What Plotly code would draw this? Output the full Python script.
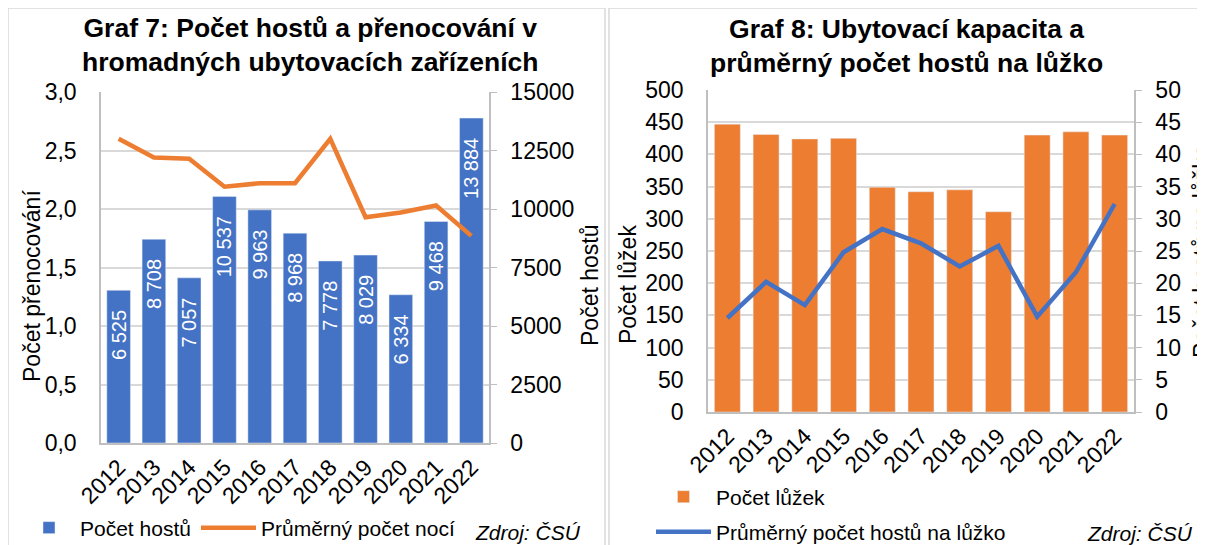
import plotly.graph_objects as go

# The page body has an 8px default margin: the figure is drawn 8px in from the corner.
OFF = 8
W, H = 1205 - OFF, 545 - OFF

years = ["2012", "2013", "2014", "2015", "2016", "2017", "2018", "2019", "2020", "2021", "2022"]

# Graf 7
pocet_hostu = [6525, 8708, 7057, 10537, 9963, 8968, 7778, 8029, 6334, 9468, 13884]
prumerny_pocet_noci = [2.60, 2.44, 2.43, 2.19, 2.22, 2.22, 2.60, 1.93, 1.97, 2.03, 1.77]
hostu_labels = ["6 525", "8 708", "7 057", "10 537", "9 963", "8 968", "7 778", "8 029", "6 334", "9 468", "13 884"]
left7_vals = [0, 0.5, 1.0, 1.5, 2.0, 2.5, 3.0]
left7_text = ["0,0", "0,5", "1,0", "1,5", "2,0", "2,5", "3,0"]
right7_vals = [0, 2500, 5000, 7500, 10000, 12500, 15000]
right7_text = ["0", "2500", "5000", "7500", "10000", "12500", "15000"]

# Graf 8
pocet_luzek = [447, 431, 424, 425, 349, 342, 345, 311, 430, 435, 430]
hostu_na_luzko = [14.6, 20.2, 16.6, 24.8, 28.4, 26.2, 22.6, 25.8, 14.8, 21.7, 32.3]
left8_vals = [0, 50, 100, 150, 200, 250, 300, 350, 400, 450, 500]
right8_vals = [0, 5, 10, 15, 20, 25, 30, 35, 40, 45, 50]

BLUE = "#4472C4"
ORANGE = "#ED7D31"
GRID = "#d9d9d9"
AXIS = "#bfbfbf"
FONT = "Liberation Sans, Arial, sans-serif"
TXT = "#000000"


def px(x):
    return (x - OFF) / W


def py(y):
    return 1 - (y - OFF) / H


fig = go.Figure()

# ---- Graf 7 ----
fig.add_trace(go.Bar(
    x=years, y=pocet_hostu, name="Počet hostů", showlegend=True,
    marker=dict(color=BLUE), text=hostu_labels, textposition="inside",
    texttemplate="%{text}\u00a0\u00a0\u00a0",
    textangle=-90, insidetextanchor="end", constraintext="none",
    textfont=dict(color="white", size=20, family=FONT),
    xaxis="x", yaxis="y", legend="legend",
))
fig.add_trace(go.Scatter(
    x=years, y=prumerny_pocet_noci, name="Průměrný počet nocí", mode="lines",
    showlegend=True,
    line=dict(color=ORANGE, width=4.5), xaxis="x", yaxis="y2", legend="legend2",
))

# ---- Graf 8 ----
fig.add_trace(go.Bar(
    x=years, y=pocet_luzek, name="Počet lůžek", showlegend=True,
    marker=dict(color=ORANGE), xaxis="x2", yaxis="y3", legend="legend3",
))
fig.add_trace(go.Scatter(
    x=years, y=hostu_na_luzko, name="Průměrný počet hostů na lůžko", mode="lines",
    showlegend=True,
    line=dict(color=BLUE, width=4.5), xaxis="x2", yaxis="y4", legend="legend4",
))

tickfont = dict(family=FONT, size=23, color=TXT)
legfont = dict(family=FONT, size=21, color=TXT)


def leg(x, y, iw):
    return dict(orientation="h", x=px(x), y=py(y), xanchor="left", yanchor="middle",
                font=legfont, bgcolor="rgba(0,0,0,0)", itemwidth=iw, visible=True)


fig.update_layout(
    width=W, height=H, autosize=False, showlegend=True,
    margin=dict(l=0, r=0, t=0, b=0, autoexpand=False),
    paper_bgcolor="white", plot_bgcolor="white",
    font=dict(family=FONT, color=TXT),
    bargap=0.33,
    xaxis=dict(domain=[px(101), px(489)], anchor="y", type="category",
               tickangle=-45, tickfont=tickfont, showline=True, linecolor=AXIS,
               linewidth=1.5, ticks="", showgrid=False),
    yaxis=dict(domain=[py(443), py(92)], anchor="x", side="right", range=[0, 15000],
               tickvals=right7_vals, ticktext=right7_text, tickfont=tickfont,
               showgrid=True, gridcolor=GRID, gridwidth=1.5, showline=True,
               linecolor=AXIS, linewidth=1.5, ticks="outside", ticklen=6,
               tickcolor=AXIS, ticklabelstandoff=9, zeroline=False),
    yaxis2=dict(overlaying="y", anchor="x", side="left", range=[0, 3],
                tickvals=left7_vals, ticktext=left7_text, tickfont=tickfont,
                showgrid=False, showline=True, linecolor=AXIS, linewidth=1.5,
                ticks="", ticklabelstandoff=18, zeroline=False),
    xaxis2=dict(domain=[px(708), px(1134)], anchor="y3", type="category",
                tickangle=-45, tickfont=tickfont, showline=True, linecolor=AXIS,
                linewidth=1.5, ticks="", showgrid=False),
    yaxis3=dict(domain=[py(412), py(90)], anchor="x2", side="left", range=[0, 500],
                tickvals=left8_vals, tickfont=tickfont, showgrid=True,
                gridcolor=GRID, gridwidth=1.5, showline=True, linecolor=AXIS,
                linewidth=1.5, ticks="", ticklabelstandoff=18, zeroline=False),
    yaxis4=dict(overlaying="y3", anchor="x2", side="right", range=[0, 50],
                tickvals=right8_vals, tickfont=tickfont, showgrid=False,
                showline=True, linecolor=AXIS, linewidth=1.5, ticks="outside",
                ticklen=6, tickcolor=AXIS, ticklabelstandoff=9, zeroline=False),
    legend=leg(18, 528, 52),
    legend2=leg(196, 528, 55),
    legend3=leg(651, 497, 55),
    legend4=leg(651, 532, 55),
)

title_font = dict(family=FONT, size=26.5, color=TXT)
axis_title_font = dict(family=FONT, size=23, color=TXT)
src_font = dict(family=FONT, size=21, color=TXT)


def ann(x, y, text, font, angle=0, xanchor="center"):
    return dict(x=px(x), y=py(y), xref="paper", yref="paper", text=text, font=font,
                textangle=angle, showarrow=False, xanchor=xanchor, yanchor="middle")


annotations = [
    ann(310, 45, "<b>Graf 7: Počet hostů a přenocování v<br>hromadných ubytovacích zařízeních</b>", title_font),
    ann(906, 46, "<b>Graf 8: Ubytovací kapacita a<br>průměrný počet hostů na lůžko</b>", title_font),
    ann(32, 286, "Počet přenocování", axis_title_font, -90),
    ann(590, 286, "Počet hostů", axis_title_font, -90),
    ann(628, 285, "Počet lůžek", axis_title_font, -90),
    ann(1202, 251, "Počet hostů na lůžko", axis_title_font, -90),
    ann(583, 532, "<i>Zdroj: ČSÚ</i>", src_font, 0, "right"),
    ann(1195, 533, "<i>Zdroj: ČSÚ</i>", src_font, 0, "right"),
]
fig.update_layout(annotations=annotations)

shapes = [
    dict(type="rect", xref="paper", yref="paper", x0=px(8), x1=px(605), y0=py(560), y1=py(8),
         line=dict(color=GRID, width=1.5), fillcolor="rgba(0,0,0,0)", layer="below"),
    dict(type="rect", xref="paper", yref="paper", x0=px(609), x1=px(1220), y0=py(560), y1=py(8),
         line=dict(color=GRID, width=1.5), fillcolor="rgba(0,0,0,0)", layer="below"),
]
fig.update_layout(shapes=shapes)

fig.write_html("out.html")
